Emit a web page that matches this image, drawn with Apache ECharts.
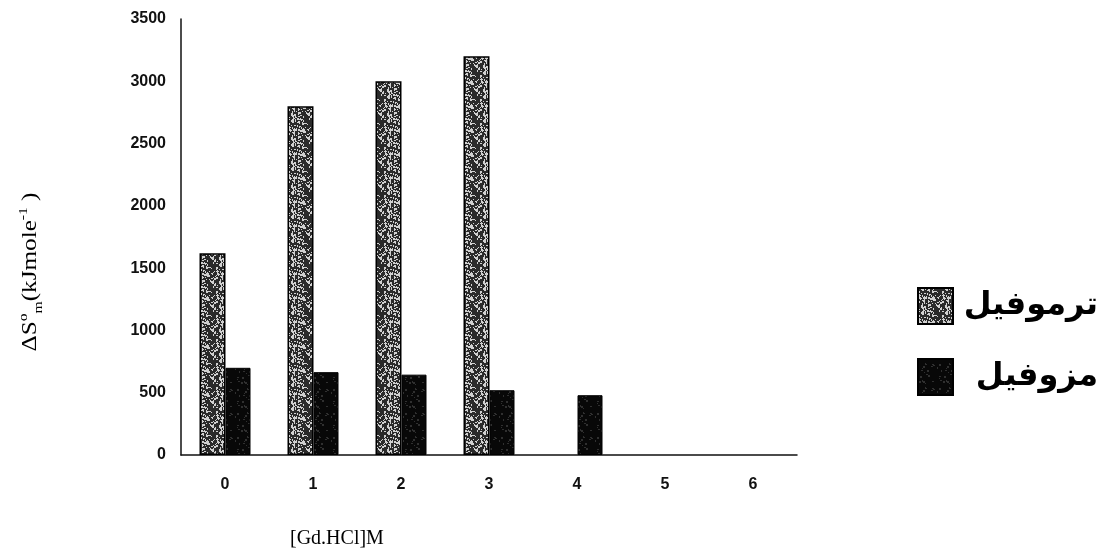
<!DOCTYPE html>
<html><head><meta charset="utf-8">
<script src="https://cdn.jsdelivr.net/npm/echarts@6/dist/echarts.min.js"></script>
<style>html,body{margin:0;padding:0;background:#fff}#c{width:1101px;height:560px}</style>
</head><body><div id="c"></div>
<script>
const categories = ['0','1','2','3','4','5','6'];
const thermoValues = [1620, 2800, 3000, 3200, 0, 0, 0];
const mesoValues = [700, 665, 645, 520, 480, 0, 0];
const seriesNames = ['ترموفیل', 'مزوفیل'];
const yTicks = {min: 0, max: 3500, interval: 500};

function makePattern(base, speck, density, seed) {
  const c = document.createElement('canvas');
  c.width = 24; c.height = 24;
  const g = c.getContext('2d');
  g.fillStyle = base; g.fillRect(0, 0, 24, 24);
  let s = seed;
  const rnd = () => { s = (s * 9301 + 49297) % 233280; return s / 233280; };
  g.fillStyle = speck;
  for (let i = 0; i < density; i++) {
    const x = Math.floor(rnd() * 24), y = Math.floor(rnd() * 24);
    g.fillRect(x, y, 1 + Math.floor(rnd() * 2), 1 + Math.floor(rnd() * 2));
  }
  return c;
}
const thermoPat = makePattern('#2a2a2a', '#d0d0d0', 120, 7);
const mesoPat = makePattern('#080808', '#303030', 25, 3);

const hideZero = v => v === 0 ? {value: 0, itemStyle: {borderWidth: 0}} : v;

const serif = 'Liberation Serif';
const chart = echarts.init(document.getElementById('c'));
chart.setOption({
  animation: false,
  backgroundColor: '#fff',
  grid: {left: 181, right: 304, top: 19, bottom: 105},
  legend: {
    orient: 'vertical', left: 912, top: 282, itemWidth: 35, itemHeight: 36, itemGap: 33,
    icon: 'rect',
    formatter: name => '{r|' + name + '}',
    textStyle: {
      rich: {r: {width: 140, align: 'right', fontFamily: 'DejaVu Sans', fontWeight: 'bold', fontSize: 32, color: '#000'}}
    },
    data: seriesNames
  },
  xAxis: {
    type: 'category', data: categories,
    axisLine: {lineStyle: {color: '#111', width: 1.5}},
    axisTick: {show: false},
    axisLabel: {margin: 22, color: '#111', fontFamily: 'Liberation Sans', fontWeight: 'bold', fontSize: 16}
  },
  yAxis: {
    type: 'value', min: yTicks.min, max: yTicks.max, interval: yTicks.interval,
    splitLine: {show: false},
    axisLine: {show: true, lineStyle: {color: '#111', width: 1.5}},
    axisTick: {show: false},
    axisLabel: {margin: 15, color: '#111', fontFamily: 'Liberation Sans', fontWeight: 'bold', fontSize: 16,
                formatter: v => String(v)}
  },
  graphic: [
    {type: 'text', left: 290, top: 529,
     style: {text: '[Gd.HCl]M', font: '20px "Liberation Serif"', fill: '#000'}},
    {type: 'text', x: 30, y: 272, rotation: Math.PI / 2, scaleX: 1.2,
     style: {
       text: '{a|ΔS}{sup|o}{sub|m}{a|(kJmole}{sup|-1}{a| )}',
       align: 'center', verticalAlign: 'middle',
       rich: {
         a: {fontFamily: serif, fontSize: 21, fill: '#000', lineHeight: 30, verticalAlign: 'middle'},
         sup: {fontFamily: serif, fontSize: 13, fill: '#000', lineHeight: 30, verticalAlign: 'top', padding: [2,0,0,0]},
         sub: {fontFamily: serif, fontSize: 13, fill: '#000', lineHeight: 30, verticalAlign: 'bottom'}
       }
     }}
  ],
  series: [
    {name: seriesNames[0], type: 'bar', data: thermoValues.map(hideZero), barWidth: 26, barGap: '0%',
     itemStyle: {color: {image: thermoPat, repeat: 'repeat'}, borderColor: '#000', borderWidth: 1.5}},
    {name: seriesNames[1], type: 'bar', data: mesoValues.map(hideZero), barWidth: 25,
     itemStyle: {color: {image: mesoPat, repeat: 'repeat'}, borderColor: '#000', borderWidth: 1}}
  ]
});
</script></body></html>
